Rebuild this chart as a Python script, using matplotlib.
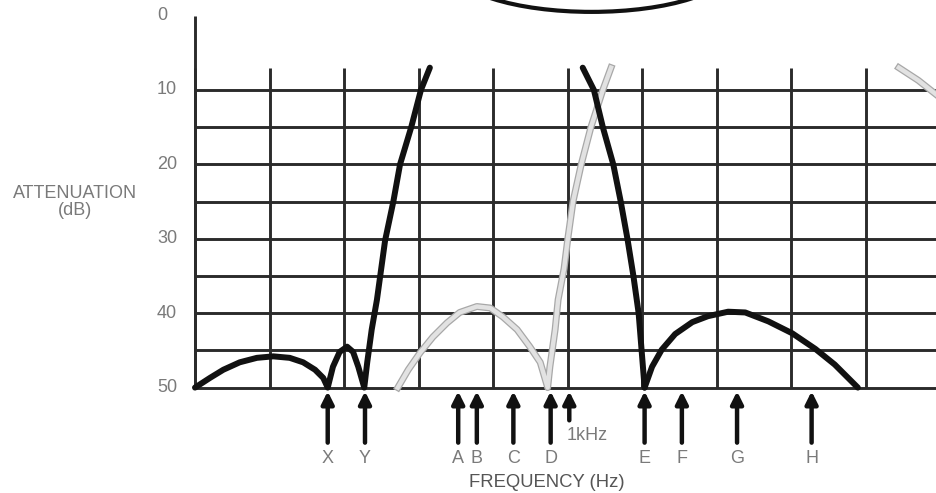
import numpy as np
import matplotlib
matplotlib.use("Agg")
import matplotlib.pyplot as plt
from matplotlib.patches import Ellipse
import matplotlib.patheffects as pe

# grid (x in grid columns, y in dB attenuation)
grid_cols = np.arange(10)
grid_rows = [10, 15, 20, 25, 30, 35, 40, 45, 50]
grid_top = 7.0
ytick_vals = [0, 10, 20, 30, 40, 50]

# black response: low stopband lobes + rising passband edge
low_u = [0, 0.20, 0.38, 0.60, 0.83, 1.05, 1.27, 1.45, 1.61, 1.72, 1.78,
         1.85, 1.94, 2.04, 2.12, 2.19, 2.27,
         2.31, 2.37, 2.44, 2.55, 2.66, 2.75, 2.90, 3.03, 3.15]
low_db = [50, 48.7, 47.6, 46.6, 46.0, 45.8, 46.0, 46.6, 47.6, 48.7, 50,
          47.2, 45.2, 44.5, 45.2, 47.2, 50,
          46.6, 42.2, 38.2, 30.2, 25, 20, 15, 10, 7]

# black response: falling passband edge
fall_u = [5.20, 5.35, 5.47, 5.61, 5.71, 5.80, 5.88, 5.95, 5.99, 6.03]
fall_db = [7, 10, 15, 20, 25, 30, 35, 40, 45, 50]

# black response: high stopband lobe
high_u = [6.03, 6.13, 6.26, 6.44, 6.67, 6.88, 7.15, 7.38, 7.69, 8.01, 8.32, 8.58, 8.89]
high_db = [50, 47.2, 44.9, 42.8, 41.2, 40.4, 39.8, 39.9, 41.1, 42.7, 44.8, 46.9, 50]

# grey response
alt_u = [2.72, 2.86, 3.02, 3.19, 3.38, 3.55, 3.78, 3.96, 4.13, 4.32, 4.49, 4.63, 4.73,
         4.76, 4.83, 4.87, 4.95, 5.00, 5.07, 5.18, 5.31, 5.47, 5.58]
alt_db = [50, 47.6, 45.3, 43.2, 41.3, 39.9, 39.1, 39.3, 40.5, 42.2, 44.5, 46.6, 50,
          47.2, 42.2, 38.2, 34, 30, 25, 20, 15, 10, 7]
alt2_u = [9.44, 9.70, 9.94]
alt2_db = [7.0, 8.7, 10.6]

# frequency markers
marker_labels = ['X', 'Y', 'A', 'B', 'C', 'D', 'E', 'F', 'G', 'H']
marker_u = [1.78, 2.28, 3.53, 3.78, 4.27, 4.77, 6.03, 6.53, 7.27, 8.27]
khz_u = 5.02

W, H = 936, 493
px_col = 74.56          # pixels per grid column
px_db = 7.44            # pixels per dB
x0, y0 = 195, 15.6      # pixel position of (0, 0 dB)

fig = plt.figure(figsize=(W / 100, H / 100), dpi=100)
ax = fig.add_axes([0, 0, 1, 1])
ax.set_xlim(-x0 / px_col, (W - x0) / px_col)
ax.set_ylim((H - y0) / px_db, -y0 / px_db)
ax.axis('off')

txt = dict(family='Liberation Sans', color='#7a7a7a')
gcol = '#2b2b2b'

ax.vlines(grid_cols, grid_top, 50, color=gcol, lw=2.1, zorder=1)
ax.hlines(grid_rows, 0, 20, color=gcol, lw=2.1, zorder=1)
ax.vlines(0, 0, 50, color=gcol, lw=2.1, zorder=1)

for v in ytick_vals:
    ax.text(-0.51, v, str(v), ha='left', va='center', fontsize=13, **txt)

ax.text(-1.61, 25.1, 'ATTENUATION\n(dB)', ha='center', va='center',
        fontsize=13, linespacing=1.0, **txt)

grey_fx = [pe.Stroke(linewidth=5, foreground='#a8a8a8'), pe.Normal()]
for u, d in [(alt_u, alt_db), (alt2_u, alt2_db)]:
    ax.plot(u, d, color='#e2e2e2', lw=3.2, zorder=2,
            solid_joinstyle='round', path_effects=grey_fx)

for u, d in [(low_u, low_db), (fall_u, fall_db), (high_u, high_db)]:
    ax.plot(u, d, color='#111111', lw=4.3, zorder=3,
            solid_joinstyle='round', solid_capstyle='round')

arrow = dict(arrowstyle='-|>', color='#111111', lw=3.2,
             mutation_scale=18, shrinkA=0, shrinkB=0)
for u, lab in zip(marker_u, marker_labels):
    ax.annotate('', xy=(u, 50.5), xytext=(u, 57.4), arrowprops=arrow,
                annotation_clip=False)
    ax.text(u, 59.5, lab, ha='center', va='center', fontsize=13, **txt)

ax.annotate('', xy=(khz_u, 50.5), xytext=(khz_u, 54.4), arrowprops=arrow,
            annotation_clip=False)
ax.text(4.99, 56.4, '1kHz', ha='left', va='center', fontsize=13, **txt)

ax.text(4.72, 62.8, 'FREQUENCY (Hz)', ha='center', va='center',
        fontsize=13.3, family='Liberation Sans', color='#555555')

# edge of the oval from the figure above
ax.add_patch(Ellipse((5.32, -6.55), 3.76, 12.1, fill=False,
                     ec='#111111', lw=3, zorder=4))

fig.savefig('out.png', dpi=100)
